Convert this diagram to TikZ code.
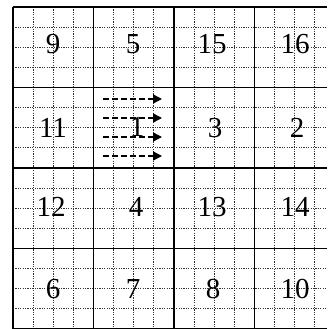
\documentclass[tikz,border=0pt]{standalone}
\usepackage{fontspec}
\setmainfont{Liberation Serif}
\usetikzlibrary{arrows.meta}
\begin{document}
\begin{tikzpicture}[x=1pt,y=-1pt,
  thickline/.style={line width=1.8pt,black},
  fineline/.style={line width=1pt,black!80,dash pattern=on 1.2pt off 1.2pt},
  num/.style={font=\fontsize{29}{29}\selectfont,inner sep=0pt,anchor=center},
  dasharrow/.style={line width=1.4pt,dash pattern=on 6pt off 3pt,-{Triangle[length=9pt,width=9pt]}}]
\useasboundingbox (0,0) rectangle (327,329);
\fill[white] (0,0) rectangle (327,329);
% fine dotted grid
\foreach \i in {1,...,15} {
  \draw[fineline] ({13+\i*20.125},7) -- ({13+\i*20.125},329);
  \draw[fineline] (13,{7+\i*20.125}) -- (327,{7+\i*20.125});
}
% thick grid
\foreach \x in {13,93.5,174,254.5} \draw[thickline] (\x,7) -- (\x,329);
\foreach \y in {7,87.5,168,248.5,328.5} \draw[thickline] (13,\y) -- (327,\y);
% numbers
\node[num] (n9)  at (53,44) {9};
\node[num] (n5)  at (133,44) {5};
\node[num] (n15) at (212,44) {15};
\node[num] (n16) at (295,44) {16};
\node[num] (n11) at (53,128) {11};
\node[num] (n3)  at (215,128) {3};
\node[num] (n2)  at (297,128) {2};
\node[num] (n12) at (51,207) {12};
\node[num] (n4)  at (136,207) {4};
\node[num] (n13) at (212,207) {13};
\node[num] (n14) at (295,207) {14};
\node[num] (n6)  at (53,289) {6};
\node[num] (n7)  at (133,289) {7};
\node[num] (n8)  at (213,289) {8};
\node[num] (n10) at (295,289) {10};
% arrows
\foreach \k/\y in {a/99,b/118,c/137,d/156} {
  \coordinate (s\k) at (103,\y);
  \coordinate (e\k) at (162,\y);
  \draw[dasharrow] (s\k) -- (e\k);
}
\node[num] (n1) at (137,127) {1};
\end{tikzpicture}
\end{document}
